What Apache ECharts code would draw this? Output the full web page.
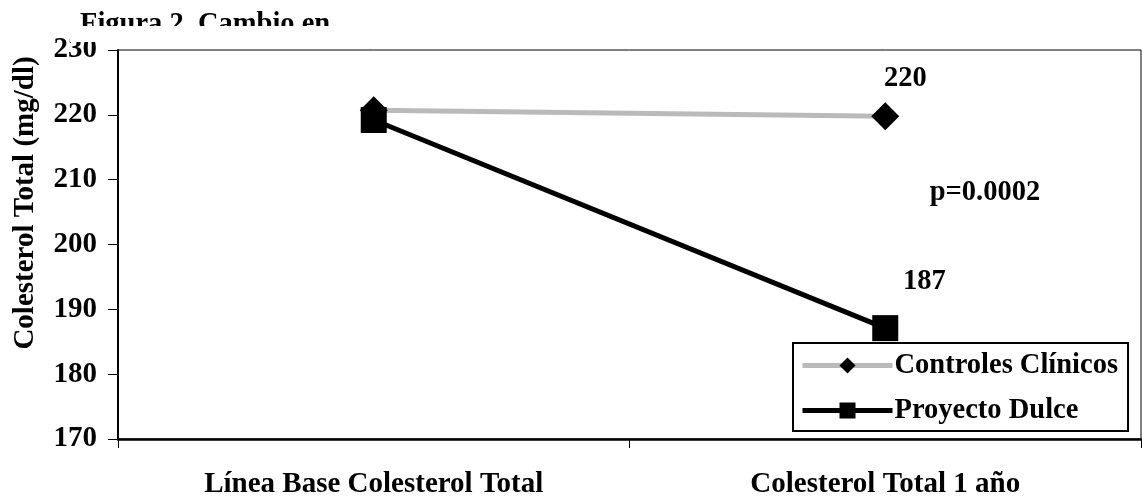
<!DOCTYPE html>
<html>
<head>
<meta charset="utf-8">
<script src="https://cdn.jsdelivr.net/npm/echarts@6/dist/echarts.min.js"></script>
<style>html,body{margin:0;padding:0;background:#fff}#c{width:1142px;height:499px}</style>
</head>
<body>
<div id="c"></div>
<script>
var categories = ['Línea Base Colesterol Total', 'Colesterol Total 1 año'];
var seriesNames = ['Controles Clínicos', 'Proyecto Dulce'];
var controles = [220.7, 219.8];
var dulce = [219.2, 187.1];
var yTicks = { min: 170, max: 230, interval: 10 };
var titleText = 'Figura 2. Cambio en';
var yAxisTitle = 'Colesterol Total (mg/dl)';
var pText = 'p=0.0002';

var FONT = "'Liberation Serif', 'Times New Roman', serif";
var chart = echarts.init(document.getElementById('c'), null, { renderer: 'canvas' });

function lastOnly() {
  return function (p) { return p.dataIndex === 1 ? String(Math.round(p.value)) : ''; };
}

var option = {
  backgroundColor: '#fff',
  animation: false,
  textStyle: { fontFamily: FONT },
  grid: { left: 118, right: 1, top: 50, bottom: 57, show: true, borderColor: '#000', borderWidth: 1, backgroundColor: 'transparent' },
  xAxis: {
    type: 'category',
    data: categories,
    boundaryGap: true,
    axisLine: { lineStyle: { color: '#000', width: 2.5 } },
    axisTick: { show: true, length: 9, lineStyle: { color: '#000', width: 1 } },
    axisLabel: { color: '#000', fontFamily: FONT, fontWeight: 'bold', fontSize: 29, margin: 31 },
    splitLine: { show: false }
  },
  yAxis: {
    type: 'value',
    min: yTicks.min, max: yTicks.max, interval: yTicks.interval,
    axisLine: { show: true, lineStyle: { color: '#000', width: 2 } },
    axisTick: { show: true, length: 10, lineStyle: { color: '#000', width: 1 } },
    axisLabel: { color: '#000', fontFamily: FONT, fontWeight: 'bold', fontSize: 29, margin: 21 },
    splitLine: { show: false }
  },
  legend: {
    orient: 'vertical',
    left: 793, top: 343,
    padding: [8, 10, 6, 7],
    itemGap: 16,
    itemWidth: 90, itemHeight: 20,
    borderColor: '#000', borderWidth: 2,
    backgroundColor: '#fff',
    lineStyle: { width: 5 },
    textStyle: { color: '#000', fontFamily: FONT, fontWeight: 'bold', fontSize: 28.5, padding: [0, 0, 0, -3] },
    data: seriesNames
  },
  series: [
    {
      name: seriesNames[0], type: 'line', data: controles, z: 5,
      symbol: 'diamond', symbolSize: 28,
      itemStyle: { color: '#000' },
      lineStyle: { color: '#bababa', width: 5 },
      label: { show: true, position: 'inside', offset: [20, -37], formatter: lastOnly(),
        color: '#000', fontFamily: FONT, fontWeight: 'bold', fontSize: 28.5 }
    },
    {
      name: seriesNames[1], type: 'line', data: dulce, z: 6,
      symbol: 'rect', symbolSize: 26,
      itemStyle: { color: '#000' },
      lineStyle: { color: '#000', width: 5 },
      label: { show: true, position: 'inside', offset: [39, -46], formatter: lastOnly(),
        color: '#000', fontFamily: FONT, fontWeight: 'bold', fontSize: 28.5 }
    }
  ],
  graphic: [
    { type: 'text', left: 80, top: 10, z: 10,
      style: { text: titleText, fill: '#000', font: 'bold 28.5px ' + FONT } },
    { type: 'rect', left: 70, top: 26, z: 11, shape: { width: 290, height: 16 }, style: { fill: '#fff' } },
    { type: 'text', x: 26, y: 203, rotation: Math.PI / 2, z: 10,
      style: { text: yAxisTitle, fill: '#000', font: 'bold 29px ' + FONT, align: 'center', verticalAlign: 'middle' } },
    { type: 'text', x: 985, y: 193, z: 10,
      style: { text: pText, fill: '#000', font: 'bold 28.5px ' + FONT, align: 'center', verticalAlign: 'middle' } }
  ]
};
chart.setOption(option);
</script>
</body>
</html>
